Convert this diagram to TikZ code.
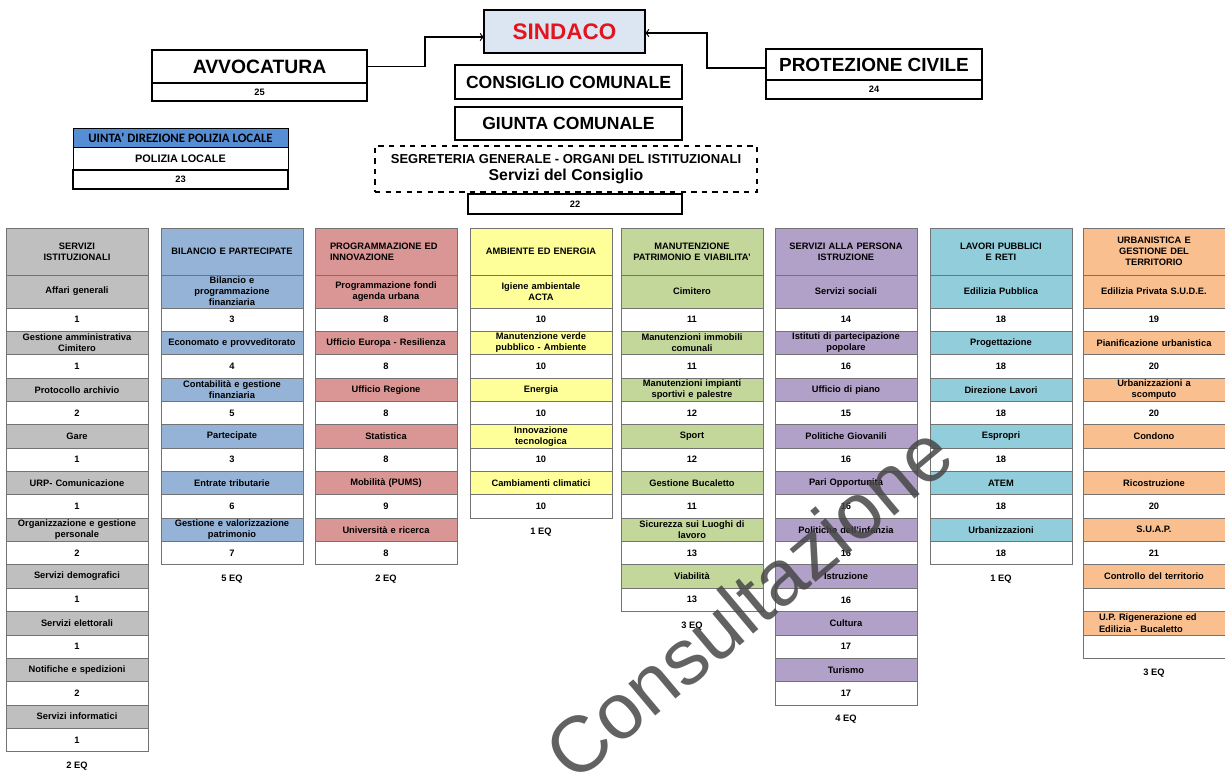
\documentclass[tikz,border=0pt]{standalone}
\usepackage{fontspec}
\setmainfont{Liberation Sans}
\newfontfamily\calibrifont{Carlito}
\usepackage{xcolor}
\usepackage{tikz}
\usetikzlibrary{shapes,arrows,positioning}

\definecolor{sGray}{HTML}{BFBFBF}
\definecolor{sBlue}{HTML}{95B3D7}
\definecolor{sRed}{HTML}{DA9694}
\definecolor{sYellow}{HTML}{FFFF99}
\definecolor{sGreen}{HTML}{C4D79B}
\definecolor{sPurple}{HTML}{B1A0C7}
\definecolor{sTeal}{HTML}{92CDDC}
\definecolor{sOrange}{HTML}{FABF8F}
\definecolor{plBlue}{HTML}{558ED5}
\definecolor{sindFill}{HTML}{DCE6F2}
\definecolor{sindText}{HTML}{E3141E}

\begin{document}
\begin{tikzpicture}[
    x=0.02cm, y=-0.02cm,
    node distance=0pt,
    topbox/.style={rectangle, draw, line width=0.9pt, inner sep=0pt, outer sep=0pt, align=center},
    smallbox/.style={rectangle, draw, line width=0.9pt, inner sep=0pt, outer sep=0pt, font=\fontsize{5.3}{6}\selectfont\bfseries},
    cell/.style={rectangle, draw=black!55, line width=0.35pt, text width=2.84cm, align=center, inner sep=0pt, outer sep=0pt, minimum height=0.467cm, font=\fontsize{5.3}{6.3}\selectfont\bfseries},
    head/.style={cell, fill=#1, minimum height=0.94cm},
    first/.style={cell, fill=#1, minimum height=0.66cm},
    item/.style={cell, fill=#1},
    num/.style={cell, fill=white},
    eq/.style={inner sep=0pt, font=\fontsize{5.3}{6}\selectfont\bfseries},
    link/.style={->, line width=0.7pt}
]
\useasboundingbox[fill=white] (0,0) rectangle (1225,776);

% Vertice
\node[topbox, minimum width=3.22cm, minimum height=0.86cm, fill=sindFill, text=sindText, font=\fontsize{12.8}{14}\selectfont\bfseries] (sindaco) at (564.5,31.5) {SINDACO};
\node[topbox, minimum width=4.54cm, minimum height=0.68cm, font=\fontsize{10}{12}\selectfont\bfseries] (consiglio) at (568.5,82) {CONSIGLIO COMUNALE};
\node[topbox, minimum width=4.54cm, minimum height=0.66cm, font=\fontsize{10}{12}\selectfont\bfseries] (giunta) at (568.5,123.5) {GIUNTA COMUNALE};
\node[topbox, dashed, line width=0.8pt, minimum width=7.64cm, minimum height=0.92cm, font=\fontsize{7.4}{9.7}\selectfont\bfseries] (segr) at (566,169) {SEGRETERIA GENERALE - ORGANI DEL ISTITUZIONALI\\\fontsize{9}{9.7}\selectfont Servizi del Consiglio};
\node[smallbox, minimum width=4.28cm, minimum height=0.4cm] (segr-n) at (575,204) {22};

% Staff
\node[topbox, minimum width=4.3cm, minimum height=0.66cm, font=\fontsize{11}{12}\selectfont\bfseries] (avv) at (259.5,66.5) {AVVOCATURA};
\node[smallbox, minimum width=4.3cm, minimum height=0.36cm, below=of avv] (avv-n) {25};
\node[topbox, minimum width=4.32cm, minimum height=0.62cm, font=\fontsize{10.8}{12}\selectfont\bfseries] (prot) at (874,64.5) {PROTEZIONE CIVILE};
\node[smallbox, minimum width=4.32cm, minimum height=0.38cm, below=of prot] (prot-n) {24};

% Polizia locale
\node[topbox, line width=0.5pt, minimum width=4.3cm, minimum height=0.38cm, fill=plBlue, font=\calibrifont\fontsize{7.3}{8}\selectfont\bfseries] (pl-h) at (180.5,137.5) {UINTA’ DIREZIONE POLIZIA LOCALE};
\node[topbox, line width=0.5pt, minimum width=4.3cm, minimum height=0.46cm, font=\fontsize{6.2}{7}\selectfont\bfseries, below=of pl-h] (pl) {POLIZIA LOCALE};
\node[smallbox, minimum width=4.3cm, minimum height=0.38cm, below=of pl] (pl-n) {23};

% Connections - staff to Sindaco
\draw[link] (avv.east) -- ++(58,0) |- ([yshift=-0.11cm]sindaco.west);
\draw[link] ([yshift=-0.07cm]prot.west) -- ++(-59,0) |- ([yshift=-0.03cm]sindaco.east);

% Servizi istituzionali
\node[head=sGray, anchor=north west] (ist-h) at (6,228) {SERVIZI\\ISTITUZIONALI};
\node[first=sGray, below=of ist-h] (ist1) {Affari generali};
\node[num, below=of ist1] (ist1-n) {1};
\node[item=sGray, below=of ist1-n] (ist2) {Gestione amministrativa\\Cimitero};
\node[num, below=of ist2] (ist2-n) {1};
\node[item=sGray, below=of ist2-n] (ist3) {Protocollo archivio};
\node[num, below=of ist3] (ist3-n) {2};
\node[item=sGray, below=of ist3-n] (ist4) {Gare};
\node[num, below=of ist4] (ist4-n) {1};
\node[item=sGray, below=of ist4-n] (ist5) {URP- Comunicazione};
\node[num, below=of ist5] (ist5-n) {1};
\node[item=sGray, below=of ist5-n] (ist6) {Organizzazione e gestione\\personale};
\node[num, below=of ist6] (ist6-n) {2};
\node[item=sGray, below=of ist6-n] (ist7) {Servizi demografici};
\node[num, below=of ist7] (ist7-n) {1};
\node[item=sGray, below=of ist7-n] (ist8) {Servizi elettorali};
\node[num, below=of ist8] (ist8-n) {1};
\node[item=sGray, below=of ist8-n] (ist9) {Notifiche e spedizioni};
\node[num, below=of ist9] (ist9-n) {2};
\node[item=sGray, below=of ist9-n] (ist10) {Servizi informatici};
\node[num, below=of ist10] (ist10-n) {1};
\node[eq, below=0.2cm of ist10-n] (ist-eq) {2 EQ};

% Bilancio e partecipate
\node[head=sBlue, anchor=north west] (bil-h) at (161,228) {BILANCIO E PARTECIPATE};
\node[first=sBlue, below=of bil-h] (bil1) {Bilancio e\\programmazione\\finanziaria};
\node[num, below=of bil1] (bil1-n) {3};
\node[item=sBlue, below=of bil1-n] (bil2) {Economato e provveditorato};
\node[num, below=of bil2] (bil2-n) {4};
\node[item=sBlue, below=of bil2-n] (bil3) {Contabilità e gestione\\finanziaria};
\node[num, below=of bil3] (bil3-n) {5};
\node[item=sBlue, below=of bil3-n] (bil4) {Partecipate};
\node[num, below=of bil4] (bil4-n) {3};
\node[item=sBlue, below=of bil4-n] (bil5) {Entrate tributarie};
\node[num, below=of bil5] (bil5-n) {6};
\node[item=sBlue, below=of bil5-n] (bil6) {Gestione e valorizzazione\\patrimonio};
\node[num, below=of bil6] (bil6-n) {7};
\node[eq, below=0.2cm of bil6-n] (bil-eq) {5 EQ};

% Programmazione ed innovazione
\node[head=sRed, anchor=north west, align=left, text width=2.24cm, inner xsep=0.3cm] (prg-h) at (315,228) {PROGRAMMAZIONE ED\\INNOVAZIONE};
\node[first=sRed, below=of prg-h] (prg1) {Programmazione fondi\\agenda urbana};
\node[num, below=of prg1] (prg1-n) {8};
\node[item=sRed, below=of prg1-n] (prg2) {Ufficio Europa - Resilienza};
\node[num, below=of prg2] (prg2-n) {8};
\node[item=sRed, below=of prg2-n] (prg3) {Ufficio Regione};
\node[num, below=of prg3] (prg3-n) {8};
\node[item=sRed, below=of prg3-n] (prg4) {Statistica};
\node[num, below=of prg4] (prg4-n) {8};
\node[item=sRed, below=of prg4-n] (prg5) {Mobilità (PUMS)};
\node[num, below=of prg5] (prg5-n) {9};
\node[item=sRed, below=of prg5-n] (prg6) {Università e ricerca};
\node[num, below=of prg6] (prg6-n) {8};
\node[eq, below=0.2cm of prg6-n] (prg-eq) {2 EQ};

% Ambiente ed energia
\node[head=sYellow, anchor=north west] (amb-h) at (470,228) {AMBIENTE ED ENERGIA};
\node[first=sYellow, below=of amb-h] (amb1) {Igiene ambientale\\ACTA};
\node[num, below=of amb1] (amb1-n) {10};
\node[item=sYellow, below=of amb1-n] (amb2) {Manutenzione verde\\pubblico - Ambiente};
\node[num, below=of amb2] (amb2-n) {10};
\node[item=sYellow, below=of amb2-n] (amb3) {Energia};
\node[num, below=of amb3] (amb3-n) {10};
\node[item=sYellow, below=of amb3-n] (amb4) {Innovazione\\tecnologica};
\node[num, below=of amb4] (amb4-n) {10};
\node[item=sYellow, below=of amb4-n] (amb5) {Cambiamenti climatici};
\node[num, below=of amb5] (amb5-n) {10};
\node[eq, below=0.2cm of amb5-n] (amb-eq) {1 EQ};

% Manutenzione patrimonio e viabilita'
\node[head=sGreen, anchor=north west] (man-h) at (621,228) {MANUTENZIONE\\PATRIMONIO E VIABILITA'};
\node[first=sGreen, below=of man-h] (man1) {Cimitero};
\node[num, below=of man1] (man1-n) {11};
\node[item=sGreen, below=of man1-n] (man2) {Manutenzioni immobili\\comunali};
\node[num, below=of man2] (man2-n) {11};
\node[item=sGreen, below=of man2-n] (man3) {Manutenzioni impianti\\sportivi e palestre};
\node[num, below=of man3] (man3-n) {12};
\node[item=sGreen, below=of man3-n] (man4) {Sport};
\node[num, below=of man4] (man4-n) {12};
\node[item=sGreen, below=of man4-n] (man5) {Gestione Bucaletto};
\node[num, below=of man5] (man5-n) {11};
\node[item=sGreen, below=of man5-n] (man6) {Sicurezza sui Luoghi di\\lavoro};
\node[num, below=of man6] (man6-n) {13};
\node[item=sGreen, below=of man6-n] (man7) {Viabilità};
\node[num, below=of man7] (man7-n) {13};
\node[eq, below=0.2cm of man7-n] (man-eq) {3 EQ};

% Servizi alla persona
\node[head=sPurple, anchor=north west] (per-h) at (775,228) {SERVIZI ALLA PERSONA\\ISTRUZIONE};
\node[first=sPurple, below=of per-h] (per1) {Servizi sociali};
\node[num, below=of per1] (per1-n) {14};
\node[item=sPurple, below=of per1-n] (per2) {Istituti di partecipazione\\popolare};
\node[num, below=of per2] (per2-n) {16};
\node[item=sPurple, below=of per2-n] (per3) {Ufficio di piano};
\node[num, below=of per3] (per3-n) {15};
\node[item=sPurple, below=of per3-n] (per4) {Politiche Giovanili};
\node[num, below=of per4] (per4-n) {16};
\node[item=sPurple, below=of per4-n] (per5) {Pari Opportunità};
\node[num, below=of per5] (per5-n) {16};
\node[item=sPurple, below=of per5-n] (per6) {Politiche dell'infanzia};
\node[num, below=of per6] (per6-n) {16};
\node[item=sPurple, below=of per6-n] (per7) {Istruzione};
\node[num, below=of per7] (per7-n) {16};
\node[item=sPurple, below=of per7-n] (per8) {Cultura};
\node[num, below=of per8] (per8-n) {17};
\node[item=sPurple, below=of per8-n] (per9) {Turismo};
\node[num, below=of per9] (per9-n) {17};
\node[eq, below=0.2cm of per9-n] (per-eq) {4 EQ};

% Lavori pubblici e reti
\node[head=sTeal, anchor=north west] (lav-h) at (930,228) {LAVORI PUBBLICI\\E RETI};
\node[first=sTeal, below=of lav-h] (lav1) {Edilizia Pubblica};
\node[num, below=of lav1] (lav1-n) {18};
\node[item=sTeal, below=of lav1-n] (lav2) {Progettazione};
\node[num, below=of lav2] (lav2-n) {18};
\node[item=sTeal, below=of lav2-n] (lav3) {Direzione Lavori};
\node[num, below=of lav3] (lav3-n) {18};
\node[item=sTeal, below=of lav3-n] (lav4) {Espropri};
\node[num, below=of lav4] (lav4-n) {18};
\node[item=sTeal, below=of lav4-n] (lav5) {ATEM};
\node[num, below=of lav5] (lav5-n) {18};
\node[item=sTeal, below=of lav5-n] (lav6) {Urbanizzazioni};
\node[num, below=of lav6] (lav6-n) {18};
\node[eq, below=0.2cm of lav6-n] (lav-eq) {1 EQ};

% Urbanistica e gestione del territorio
\node[head=sOrange, anchor=north west] (urb-h) at (1083,228) {URBANISTICA E\\GESTIONE DEL\\TERRITORIO};
\node[first=sOrange, below=of urb-h] (urb1) {Edilizia Privata S.U.D.E.};
\node[num, below=of urb1] (urb1-n) {19};
\node[item=sOrange, below=of urb1-n] (urb2) {Pianificazione urbanistica};
\node[num, below=of urb2] (urb2-n) {20};
\node[item=sOrange, below=of urb2-n] (urb3) {Urbanizzazioni a\\scomputo};
\node[num, below=of urb3] (urb3-n) {20};
\node[item=sOrange, below=of urb3-n] (urb4) {Condono};
\node[num, below=of urb4] (urb4-n) {};
\node[item=sOrange, below=of urb4-n] (urb5) {Ricostruzione};
\node[num, below=of urb5] (urb5-n) {20};
\node[item=sOrange, below=of urb5-n] (urb6) {S.U.A.P.};
\node[num, below=of urb6] (urb6-n) {21};
\node[item=sOrange, below=of urb6-n] (urb7) {Controllo del territorio};
\node[num, below=of urb7] (urb7-n) {};
\node[item=sOrange, below=of urb7-n, align=left, text width=2.2cm, inner xsep=0.32cm] (urb8) {U.P. Rigenerazione ed\\Edilizia - Bucaletto};
\node[num, below=of urb8] (urb8-n) {};
\node[eq, below=0.2cm of urb8-n] (urb-eq) {3 EQ};

% Filigrana
\node[rotate=40, text=black!72, opacity=0.85, font=\fontsize{45}{45}\selectfont] (wm) at (748,602) {Consultazione};

\end{tikzpicture}
\end{document}
